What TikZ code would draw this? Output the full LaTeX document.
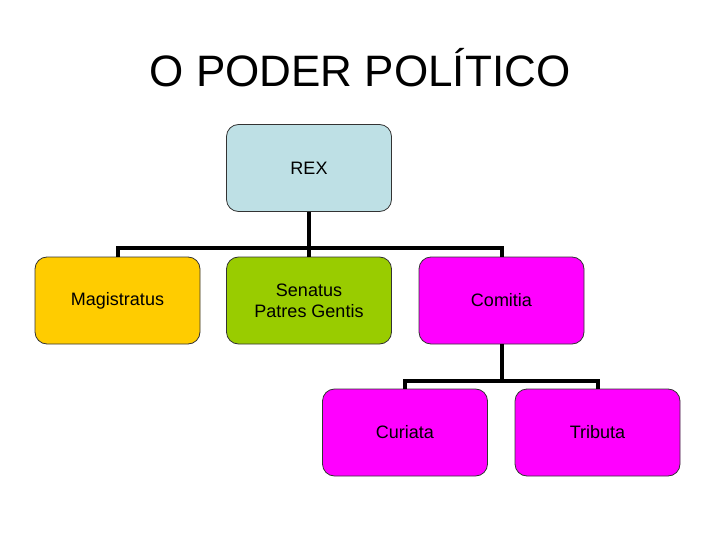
\documentclass[tikz,border=0pt]{standalone}
\usepackage{fontspec}
\setmainfont{Liberation Sans}
\usepackage{tikz}
\usetikzlibrary{positioning, calc}

\definecolor{rexblue}{RGB}{190,224,229}
\definecolor{magyellow}{RGB}{255,204,0}
\definecolor{sengreen}{RGB}{153,204,0}
\definecolor{commagenta}{RGB}{255,0,255}

\begin{document}
\begin{tikzpicture}[x=1pt, y=-1pt,
  box/.style={draw=black!80, line width=0.8pt, rounded corners=12pt,
    minimum width=165pt, minimum height=87pt, align=center,
    font=\fontsize{18}{21}\selectfont, inner sep=0pt},
  conn/.style={line width=4pt}]
  \useasboundingbox (0,0) rectangle (720,540);
  % Titre
  \node (titre) at (360,68) {\fontsize{44}{52}\selectfont O PODER POLÍTICO};

  % Boites
  \node[box, fill=rexblue] (rex) at (309,168) {REX};
  \node[box, fill=magyellow] (mag) at (117.5,300.5) {Magistratus};
  \node[box, fill=sengreen] (sen) at (309,300.5) {Senatus\\Patres Gentis};
  \node[box, fill=commagenta] (com) at (501.5,300.5) {Comitia};
  \node[box, fill=commagenta] (cur) at (405,432.5) {Curiata};
  \node[box, fill=commagenta] (tri) at (597.5,432.5) {Tributa};

  % Liaisons
  \coordinate (barre1) at (309,248);
  \coordinate (barre2) at (501.5,381);
  \draw[conn] (rex.south) -- (sen.north);
  \draw[conn] (mag.north) |- (barre1) -| (com.north);
  \draw[conn] (com.south) -- (barre2);
  \draw[conn] (cur.north) |- (barre2) -| (tri.north);
\end{tikzpicture}
\end{document}
